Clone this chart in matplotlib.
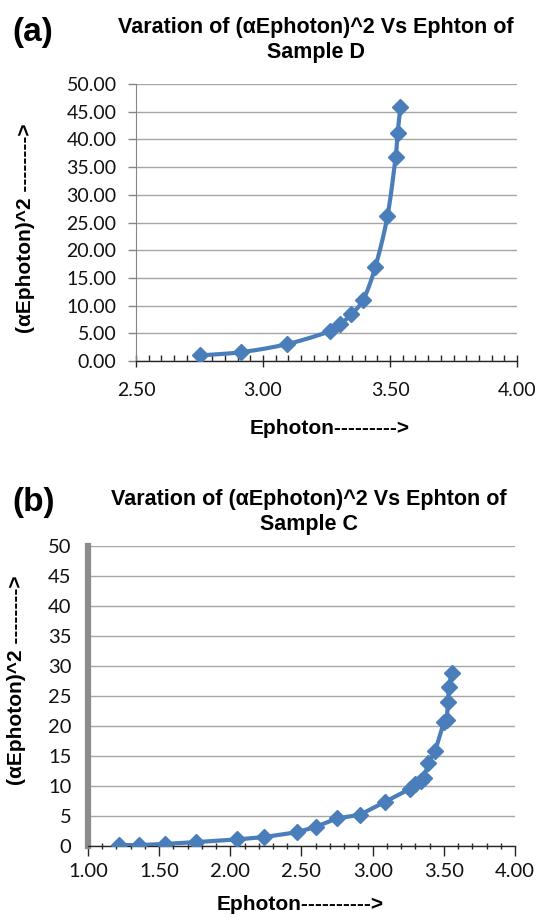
import numpy as np
import matplotlib
matplotlib.use("Agg")
import matplotlib.pyplot as plt
from matplotlib.ticker import MultipleLocator, FormatStrFormatter

# ---------------- data ----------------
a_energy = [2.75, 2.915, 3.095, 3.262, 3.303, 3.348, 3.395, 3.442, 3.490, 3.522, 3.530, 3.541]
a_values = [1.0, 1.6, 3.05, 5.35, 6.6, 8.45, 11.1, 16.95, 26.15, 36.8, 41.15, 45.8]

b_energy = [1.22, 1.36, 1.54, 1.76, 2.05, 2.24, 2.47, 2.60, 2.75, 2.91, 3.09, 3.26,
            3.30, 3.34, 3.36, 3.39, 3.44, 3.50, 3.52, 3.53, 3.535, 3.555]
b_values = [0.15, 0.15, 0.35, 0.65, 1.1, 1.5, 2.3, 3.2, 4.6, 5.2, 7.4, 9.5,
            10.3, 10.9, 11.3, 13.8, 15.9, 20.6, 21.0, 24.0, 26.5, 28.8]

a_title = "Varation of (\u03b1Ephoton)^2 Vs Ephton of\nSample D"
b_title = "Varation of (\u03b1Ephoton)^2 Vs Ephton of\nSample C"
a_ylabel = "(\u03b1Ephoton)^2 -------->"
b_ylabel = "(\u03b1Ephoton)^2 -------->"
a_xlabel = "Ephoton--------->"
b_xlabel = "Ephoton---------->"

# ---------------- styles ----------------
W, H = 539, 917
BLUE = "#4A7EBB"
GRID = "#A6A6A6"
TICKFONT = "Lato"
BOLDFONT = ["Liberation Sans", "DejaVu Sans"]

fig = plt.figure(figsize=(W / 100, H / 100), dpi=100)
fig.patch.set_facecolor("white")


def px_axes(left, top, right, bottom):
    return fig.add_axes([left / W, 1 - bottom / H, (right - left) / W, (bottom - top) / H])


def ftext(x, y, s, **kw):
    fig.text(x / W, 1 - y / H, s, **kw)


def smooth(xs, ys, n=24):
    # Catmull-Rom drawing of the line through the data points
    p = np.column_stack([xs, ys]).astype(float)
    p = np.vstack([p[0] - (p[1] - p[0]), p, p[-1] + (p[-1] - p[-2])])
    out = []
    t = np.linspace(0, 1, n, endpoint=False)[:, None]
    for i in range(1, len(p) - 2):
        p0, p1, p2, p3 = p[i - 1], p[i], p[i + 1], p[i + 2]
        seg = 0.5 * ((2 * p1) + (-p0 + p2) * t + (2 * p0 - 5 * p1 + 4 * p2 - p3) * t ** 2
                     + (-p0 + 3 * p1 - 3 * p2 + p3) * t ** 3)
        out.append(seg)
    out.append(p[-2][None, :])
    out = np.vstack(out)
    return out[:, 0], out[:, 1]


def style_common(ax):
    ax.set_facecolor("white")
    ax.grid(axis="y", color=GRID, linewidth=1.0)
    ax.set_axisbelow(True)
    for s in ["top", "right"]:
        ax.spines[s].set_visible(False)
    ax.spines["bottom"].set_color("#262626")
    ax.spines["bottom"].set_linewidth(1.0)
    ax.set_ylim(0, 50)
    ax.yaxis.set_major_locator(MultipleLocator(5))
    ax.xaxis.set_major_locator(MultipleLocator(0.5))
    ax.xaxis.set_major_formatter(FormatStrFormatter("%.2f"))


def font_ticks(ax, size):
    for lab in ax.get_xticklabels() + ax.get_yticklabels():
        lab.set_fontfamily(TICKFONT)
        lab.set_fontsize(size)
        lab.set_color("#111111")


# ---------------- panel (a) ----------------
axa = px_axes(136, 84, 517, 361)
sx, sy = smooth(a_energy, a_values)
axa.plot(sx, sy, color=BLUE, linewidth=3.0, solid_capstyle="round", zorder=3)
axa.plot(a_energy, a_values, linestyle="none", marker="D", markersize=8.5,
         color=BLUE, markeredgecolor=BLUE, zorder=4)
axa.set_xlim(2.5, 4.0)
style_common(axa)
axa.yaxis.set_major_formatter(FormatStrFormatter("%.2f"))
axa.xaxis.set_minor_locator(MultipleLocator(0.05))
axa.spines["left"].set_color("#868686")
axa.tick_params(axis="x", which="major", direction="inout", length=8, width=1,
                color="#262626", pad=11)
axa.tick_params(axis="x", which="minor", direction="in", length=4, width=1, color="#262626")
axa.tick_params(axis="y", which="major", direction="out", length=6, width=1,
                color="#868686", pad=8)
font_ticks(axa, 14)

ftext(12, 32, "(a)", fontsize=24, fontweight="bold", family=BOLDFONT, va="center", ha="left")
ftext(316, 40, a_title, fontsize=15.5, fontweight="bold", family=BOLDFONT,
      ha="center", va="center", linespacing=1.2)
ftext(26, 228, a_ylabel, fontsize=15, fontweight="bold", family=BOLDFONT,
      ha="center", va="center", rotation=90)
ftext(330, 428, a_xlabel, fontsize=15, fontweight="bold", family=BOLDFONT,
      ha="center", va="center")

# ---------------- panel (b) ----------------
axb = px_axes(88, 546, 515, 846)
axb.plot(b_energy, b_values, color=BLUE, linewidth=3.0, marker="D", markersize=8.5,
         markeredgecolor=BLUE, zorder=3)
axb.set_xlim(1.0, 4.0)
style_common(axb)
axb.yaxis.set_major_formatter(FormatStrFormatter("%d"))
axb.xaxis.set_minor_locator(MultipleLocator(0.1))
axb.spines["left"].set_color("#8C8C8C")
axb.spines["left"].set_linewidth(4.5)
axb.tick_params(axis="x", which="major", direction="out", length=7, width=1,
                color="#262626", pad=5)
axb.tick_params(axis="x", which="minor", direction="inout", length=5, width=1, color="#262626")
axb.tick_params(axis="y", which="major", length=0, pad=12)
font_ticks(axb, 14.5)

ftext(12, 502, "(b)", fontsize=24, fontweight="bold", family=BOLDFONT, va="center", ha="left")
ftext(309, 512, b_title, fontsize=15.5, fontweight="bold", family=BOLDFONT,
      ha="center", va="center", linespacing=1.2)
ftext(17, 680, b_ylabel, fontsize=15, fontweight="bold", family=BOLDFONT,
      ha="center", va="center", rotation=90)
ftext(300, 905, b_xlabel, fontsize=15, fontweight="bold", family=BOLDFONT,
      ha="center", va="center")

fig.savefig("out.png", dpi=100, facecolor="white")
